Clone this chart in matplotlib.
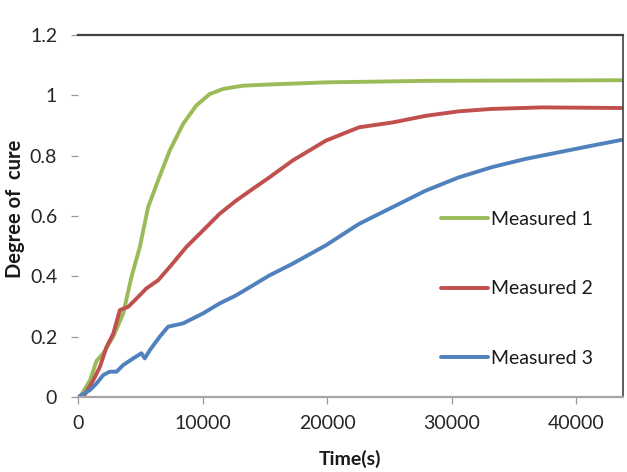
import matplotlib
matplotlib.use("Agg")
import matplotlib.pyplot as plt

# ---- data ----
t1 = [160, 960, 1490, 2030, 2830, 3630, 4290, 4960, 5630, 6430, 7360, 8430, 9490,
      10560, 11630, 13230, 15360, 19900, 27900, 43600]
m1 = [0.0, 0.055, 0.12, 0.145, 0.2, 0.277, 0.398, 0.497, 0.63, 0.718, 0.817, 0.905, 0.966,
      1.004, 1.021, 1.032, 1.036, 1.043, 1.048, 1.05]

t2 = [430, 1230, 1760, 2290, 2830, 3360, 4030, 4690, 5490, 6430, 7360, 8690, 10030,
      11360, 12690, 14030, 15360, 17230, 19900, 22560, 25230, 27900, 30560, 33230,
      37230, 43600]
m2 = [0.0, 0.056, 0.1, 0.166, 0.21, 0.288, 0.299, 0.326, 0.36, 0.387, 0.431, 0.497, 0.552,
      0.607, 0.651, 0.69, 0.728, 0.784, 0.85, 0.894, 0.91, 0.932, 0.947, 0.955,
      0.96, 0.958]

t3 = [0, 960, 1490, 2030, 2560, 3100, 3630, 4430, 5090, 5360, 5760, 6560, 7230, 8430,
      10030, 11360, 12690, 14030, 15360, 17230, 19900, 22560, 25230, 27900, 30560,
      33230, 35890, 38560, 41220, 43600]
m3 = [0.0, 0.023, 0.045, 0.073, 0.084, 0.084, 0.106, 0.128, 0.145, 0.128, 0.155, 0.2,
      0.233, 0.244, 0.277, 0.31, 0.337, 0.37, 0.403, 0.442, 0.503, 0.574, 0.629, 0.684,
      0.728, 0.762, 0.789, 0.811, 0.833, 0.852]

series_labels = ["Measured 1", "Measured 2", "Measured 3"]
x_ticks = [0, 10000, 20000, 30000, 40000]
x_tick_labels = ["0", "10000", "20000", "30000", "40000"]
y_ticks = [0, 0.2, 0.4, 0.6, 0.8, 1.0, 1.2]
y_tick_labels = ["0", "0.2", "0.4", "0.6", "0.8", "1", "1.2"]

plt.rcParams['font.family'] = ['Lato', 'DejaVu Sans']

W, H = 627, 472
fig = plt.figure(figsize=(W / 100, H / 100), dpi=100)
ax = fig.add_axes([78 / W, 1 - 397 / H, (622.5 - 78) / W, (397 - 35) / H])

colors = ["#9BBB59", "#C0504D", "#4F81BD"]
for t, m, c, lab in zip([t1, t2, t3], [m1, m2, m3], colors, series_labels):
    ax.plot(t, m, color=c, lw=2.8, label=lab, solid_capstyle='round',
            solid_joinstyle='round')

ax.set_xlim(0, 43700)
ax.set_ylim(0, 1.2)
ax.set_xticks(x_ticks)
ax.set_xticklabels(x_tick_labels)
ax.set_yticks(y_ticks)
ax.set_yticklabels(y_tick_labels)

ax.tick_params(axis='both', direction='out', length=5, width=0.9, color='#999999',
               labelsize=14, labelcolor='#262626')
ax.tick_params(axis='x', pad=8)
ax.tick_params(axis='y', pad=10)

ax.spines['left'].set_visible(False)
ax.spines['bottom'].set_color('#A6A6A6')
ax.spines['bottom'].set_linewidth(1.6)
ax.spines['top'].set_color('#404040')
ax.spines['top'].set_linewidth(1.6)
ax.spines['right'].set_color('#404040')
ax.spines['right'].set_linewidth(1.2)

ax.set_xlabel("Time(s)", fontsize=14, fontweight='bold', color='#1a1a1a')
ax.set_ylabel("Degree of  cure", fontsize=14.5, fontweight='bold', color='#1a1a1a')
ax.xaxis.set_label_coords(0.5, -0.145)
ax.yaxis.set_label_coords(-0.098, 0.52)

leg = ax.legend(loc='upper left', bbox_to_anchor=((441 - 78) / (622.5 - 78), (397 - 211) / 362),
                frameon=False, fontsize=14, labelspacing=2.7, handlelength=2.4,
                handletextpad=0.15, borderaxespad=0, borderpad=0)
for txt in leg.get_texts():
    txt.set_color('#1a1a1a')

fig.savefig("out.png", dpi=100)
